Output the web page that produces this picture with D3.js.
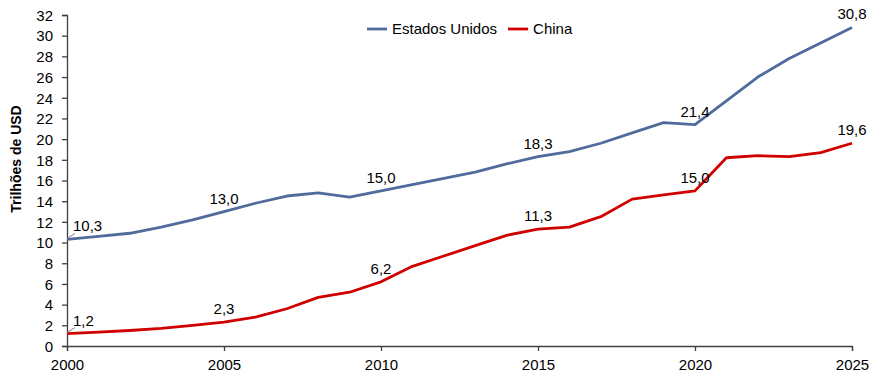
<!DOCTYPE html>
<html>
<head>
<meta charset="utf-8">
<script src="https://cdn.jsdelivr.net/npm/d3@7"></script>
<style>
  body { margin: 0; background: #fff; }
  svg { font-family: "Liberation Sans", Arial, sans-serif; }
</style>
</head>
<body>
<div id="chart"></div>
<script>
// Data (trilhões de USD)
const years = d3.range(2000, 2026);
const usa = [10.3, 10.6, 10.9, 11.5, 12.2, 13.0, 13.8, 14.5, 14.8, 14.4,
             15.0, 15.6, 16.2, 16.8, 17.6, 18.3, 18.8, 19.6, 20.6, 21.6,
             21.4, 23.7, 26.0, 27.8, 29.3, 30.8];
const china = [1.2, 1.35, 1.5, 1.7, 2.0, 2.3, 2.8, 3.6, 4.7, 5.2,
               6.2, 7.7, 8.7, 9.7, 10.7, 11.3, 11.5, 12.5, 14.2, 14.6,
               15.0, 18.2, 18.4, 18.3, 18.7, 19.6];
const labelYears = [2000, 2005, 2010, 2015, 2020, 2025];
const yTicks = d3.range(0, 33, 2);
const xTicks = [2000, 2005, 2010, 2015, 2020, 2025];

const series = [
  { name: "Estados Unidos", values: usa, color: "#4F6B9C" },
  { name: "China", values: china, color: "#D00000" }
];

const width = 886, height = 389;
const margin = { top: 15, right: 34, bottom: 43, left: 67 };

const svg = d3.select("#chart")
  .append("svg")
  .attr("width", width)
  .attr("height", height);

const x = d3.scaleLinear()
  .domain([2000, 2025])
  .range([margin.left, width - margin.right]);

const y = d3.scaleLinear()
  .domain([0, 32])
  .range([height - margin.bottom, margin.top]);

// Axes
const xAxis = svg.append("g")
  .attr("transform", `translate(0,${y(0)})`)
  .call(d3.axisBottom(x).tickValues(xTicks).tickFormat(d3.format("d")).tickSize(5).tickPadding(8));

const yAxis = svg.append("g")
  .attr("transform", `translate(${x(2000)},0)`)
  .call(d3.axisLeft(y).tickValues(yTicks).tickSize(5).tickPadding(9));

[xAxis, yAxis].forEach(g => {
  g.select(".domain").attr("stroke", "#404040").attr("stroke-width", 1.3);
  g.selectAll(".tick line").attr("stroke", "#404040").attr("stroke-width", 1.3);
  g.selectAll("text")
    .attr("font-family", "Liberation Sans, Arial, sans-serif")
    .attr("font-size", "15px")
    .attr("fill", "#000");
});
yAxis.selectAll("text").attr("dy", "0.35em");

// Y label
svg.append("text")
  .attr("transform", `translate(21,159) rotate(-90)`)
  .attr("text-anchor", "middle")
  .attr("font-size", "14px")
  .attr("font-weight", "bold")
  .text("Trilhões de USD");

// Lines
const line = d3.line()
  .x((d, i) => x(years[i]))
  .y(d => y(d));

series.forEach(s => {
  svg.append("path")
    .datum(s.values)
    .attr("fill", "none")
    .attr("stroke", s.color)
    .attr("stroke-width", 2.8)
    .attr("stroke-linejoin", "round")
    .attr("d", line);
});

// Data labels
series.forEach(s => {
  labelYears.forEach(yr => {
    const v = s.values[years.indexOf(yr)];
    const px = x(yr), py = y(v);
    const txt = d3.format(".1f")(v).replace(".", ",");
    if (yr === 2000) {
      svg.append("line")
        .attr("x1", px).attr("y1", py - 1)
        .attr("x2", px + 8).attr("y2", py - 6)
        .attr("stroke", "#808080").attr("stroke-width", 1);
      svg.append("text")
        .attr("x", px + 6).attr("y", py - 8)
        .attr("font-size", "15px")
        .text(txt);
    } else {
      svg.append("text")
        .attr("x", px).attr("y", py - 8)
        .attr("text-anchor", "middle")
        .attr("font-size", "15px")
        .text(txt);
    }
  });
});

// Legend
const legend = svg.append("g").attr("transform", "translate(367,29)");
let lx = 0;
series.forEach(s => {
  legend.append("line")
    .attr("x1", lx).attr("x2", lx + 20)
    .attr("y1", 0).attr("y2", 0)
    .attr("stroke", s.color).attr("stroke-width", 2.8);
  const t = legend.append("text")
    .attr("x", lx + 25).attr("y", 0)
    .attr("dy", "0.35em")
    .attr("font-size", "15px")
    .text(s.name);
  lx += 25 + t.node().getComputedTextLength() + 11;
});
</script>
</body>
</html>
